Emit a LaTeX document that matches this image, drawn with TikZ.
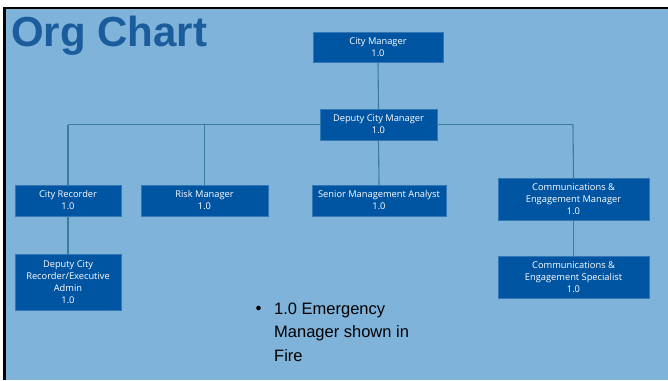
\documentclass[tikz,border=0pt]{standalone}
\usepackage{fontspec}
\setmainfont{Liberation Sans}
\newfontfamily\boxfont{Open Sans}
\definecolor{bgblue}{HTML}{7FB3DA}
\definecolor{boxblue}{HTML}{0055A2}
\definecolor{linecol}{HTML}{3B7C98}
\definecolor{titleblue}{HTML}{1A5C9C}
\begin{document}
\begin{tikzpicture}[x=1pt,y=-1pt,
  orgbox/.style={fill=boxblue,draw=boxblue!80!white,line width=0.4pt,text=white,font=\boxfont\fontsize{9.3}{12}\selectfont,align=center,inner sep=0pt},
  link/.style={draw=linecol,line width=1.1pt}]
\useasboundingbox (0,0) rectangle (668,380);
\fill[bgblue] (5,8) rectangle (668,380);
\draw[black,line width=2.5pt] (4.5,380) -- (4.5,8) -- (668,8);
\node[anchor=north west,inner sep=0pt,text=titleblue,font=\bfseries\fontsize{42}{42}\selectfont] (title) at (11,16) {Org Chart};
% boxes
\node[orgbox,minimum width=130,minimum height=30] (cm) at (378,47) {City Manager\\1.0};
\node[orgbox,minimum width=117,minimum height=31] (dcm) at (378.5,124.5) {Deputy City Manager\\1.0};
\coordinate (hl) at (68,124.5);
\coordinate (hr) at (573,124.5);
\node[orgbox,minimum width=106,minimum height=31] (cr) at (68,200.5) {City Recorder\\1.0};
\node[orgbox,minimum width=127,minimum height=31] (rm) at (204.5,200.5) {Risk Manager\\1.0};
\node[orgbox,minimum width=134,minimum height=31] (sma) at (379,200.5) {Senior Management Analyst\\1.0};
\node[orgbox,minimum width=151,minimum height=42] (cem) at (573.5,199) {Communications \&\\Engagement Manager\\1.0};
\node[orgbox,minimum width=106,minimum height=56] (dcr) at (68,282) {Deputy City\\Recorder/Executive\\Admin\\1.0};
\node[orgbox,minimum width=151,minimum height=42] (ces) at (573.5,277) {Communications \&\\Engagement Specialist\\1.0};
% connectors
\path[link] (cm.south) -- (dcm.north);
\path[link] (hl) -- (dcm.west);
\path[link] (dcm.east) -- (hr);
\path[link] (hl) -- (cr.north);
\path[link] (rm.north |- hl) -- (rm.north);
\path[link] (dcm.south) -- (sma.north);
\path[link] (hr) -- (cem.north);
\path[link] (cr.south) -- (dcr.north);
\path[link] (cem.south) -- (ces.north);
% note
\node[anchor=north west,inner sep=0pt,align=left,font=\fontsize{16.5}{23.5}\selectfont] (note) at (274,302.5) {1.0 Emergency\\Manager shown in\\Fire};
\fill[black] (258.5,308) circle (2.3pt);
\end{tikzpicture}
\end{document}
